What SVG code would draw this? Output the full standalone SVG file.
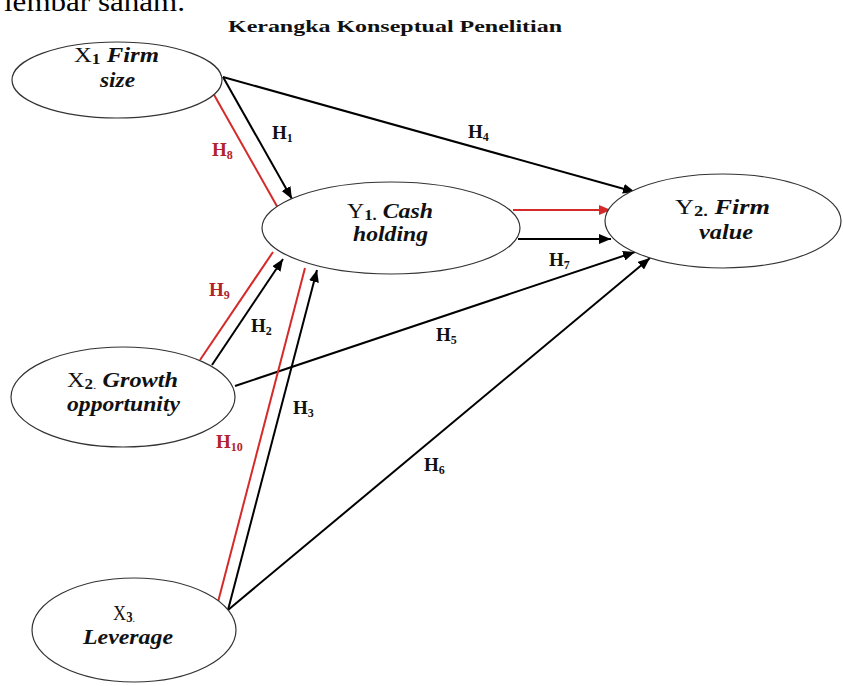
<svg xmlns="http://www.w3.org/2000/svg" width="843" height="686" viewBox="0 0 843 686">
<style>
.node{fill:#fff;stroke:#333;stroke-width:1.2}
.lbl{font-family:"Liberation Serif",serif;font-size:20px;fill:#111}
.it{font-weight:bold;font-style:italic}
.sub{font-weight:bold;font-size:14px}
.h{font-family:"Liberation Serif",serif;font-size:19px;font-weight:bold;fill:#111}
.hr{fill:#b0232a}
.hs{font-size:12px}
.blk{stroke:#000;stroke-width:2;fill:none}
.red{stroke:#d42a2a;stroke-width:2;fill:none}
</style>
<defs>
<marker id="ab" markerUnits="userSpaceOnUse" markerWidth="12" markerHeight="10" refX="12" refY="5" orient="auto"><path d="M0,0 L12,5 L0,10 z" fill="#000"/></marker>
<marker id="ar" markerUnits="userSpaceOnUse" markerWidth="12" markerHeight="10" refX="12" refY="5" orient="auto"><path d="M0,0 L12,5 L0,10 z" fill="#d42a2a"/></marker>
</defs>
<rect width="843" height="686" fill="#fff"/>
<text x="4" y="11" font-family="Liberation Serif,serif" font-size="28" fill="#000" textLength="181" lengthAdjust="spacingAndGlyphs">lembar saham.</text>
<text x="228" y="32" font-family="Liberation Serif,serif" font-size="17" font-weight="bold" fill="#111" textLength="334" lengthAdjust="spacingAndGlyphs">Kerangka Konseptual Penelitian</text>

<g id="connectors">
<path class="blk" d="M223,77 L292,199" marker-end="url(#ab)"/>
<path class="red" d="M213,93 L278,208"/>
<path class="blk" d="M223,77 L635,192" marker-end="url(#ab)"/>
<path class="red" d="M513,210 L611,210" marker-end="url(#ar)"/>
<path class="blk" d="M518,239 L611,239" marker-end="url(#ab)"/>
<path class="blk" d="M235,386 L635,252" marker-end="url(#ab)"/>
<path class="blk" d="M228,610 L650,258" marker-end="url(#ab)"/>
<path class="blk" d="M212,365 L283,259" marker-end="url(#ab)"/>
<path class="red" d="M200,360 L273,252"/>
<path class="blk" d="M228,610 L317,270" marker-end="url(#ab)"/>
<path class="red" d="M218,602 L305,268"/>
<text class="h" x="272" y="139">H<tspan class="hs" dy="3">1</tspan></text>
<text class="h hr" x="212" y="156">H<tspan class="hs" dy="3">8</tspan></text>
<text class="h" x="468" y="138">H<tspan class="hs" dy="3">4</tspan></text>
<text class="h" x="549" y="266">H<tspan class="hs" dy="3">7</tspan></text>
<text class="h hr" x="209" y="296">H<tspan class="hs" dy="3">9</tspan></text>
<text class="h" x="251" y="332">H<tspan class="hs" dy="3">2</tspan></text>
<text class="h" x="436" y="341">H<tspan class="hs" dy="3">5</tspan></text>
<text class="h" x="293" y="414">H<tspan class="hs" dy="3">3</tspan></text>
<text class="h hr" x="216" y="448">H<tspan class="hs" dy="3">10</tspan></text>
<text class="h" x="424" y="471">H<tspan class="hs" dy="3">6</tspan></text>
</g>

<g id="X1">
<ellipse class="node" cx="117" cy="80" rx="105" ry="38"/>
<text class="lbl" x="74" y="62" textLength="85" lengthAdjust="spacingAndGlyphs">X<tspan class="sub" dy="2">1</tspan><tspan class="it" dy="-2"> Firm</tspan></text>
<text class="lbl it" x="100" y="87" textLength="35" lengthAdjust="spacingAndGlyphs">size</text>
</g>
<g id="Y1">
<ellipse class="node" cx="391" cy="228" rx="129" ry="46"/>
<text class="lbl" x="347" y="218" textLength="86" lengthAdjust="spacingAndGlyphs">Y<tspan class="sub" dy="2">1.</tspan><tspan class="it" dy="-2"> Cash</tspan></text>
<text class="lbl it" x="353" y="241" textLength="75" lengthAdjust="spacingAndGlyphs">holding</text>
</g>
<g id="Y2">
<ellipse class="node" cx="723" cy="221" rx="118" ry="47"/>
<text class="lbl" x="675" y="214" textLength="95" lengthAdjust="spacingAndGlyphs">Y<tspan class="sub" dy="2">2.</tspan><tspan class="it" dy="-2"> Firm</tspan></text>
<text class="lbl it" x="699" y="239" textLength="54" lengthAdjust="spacingAndGlyphs">value</text>
</g>
<g id="X2">
<ellipse class="node" cx="123" cy="397" rx="112" ry="50"/>
<text class="lbl" x="67" y="387" textLength="111" lengthAdjust="spacingAndGlyphs">X<tspan class="sub" dy="2">2</tspan><tspan font-size="11">.</tspan><tspan class="it" dy="-2"> Growth</tspan></text>
<text class="lbl it" x="67" y="411" textLength="113" lengthAdjust="spacingAndGlyphs">opportunity</text>
</g>
<g id="X3">
<ellipse class="node" cx="134" cy="630" rx="102" ry="52"/>
<text class="lbl" x="113" y="620" textLength="22" lengthAdjust="spacingAndGlyphs">X<tspan class="sub" dy="2">3</tspan><tspan font-size="11">.</tspan></text>
<text class="lbl it" x="83" y="644" textLength="90" lengthAdjust="spacingAndGlyphs">Leverage</text>
</g>
</svg>
